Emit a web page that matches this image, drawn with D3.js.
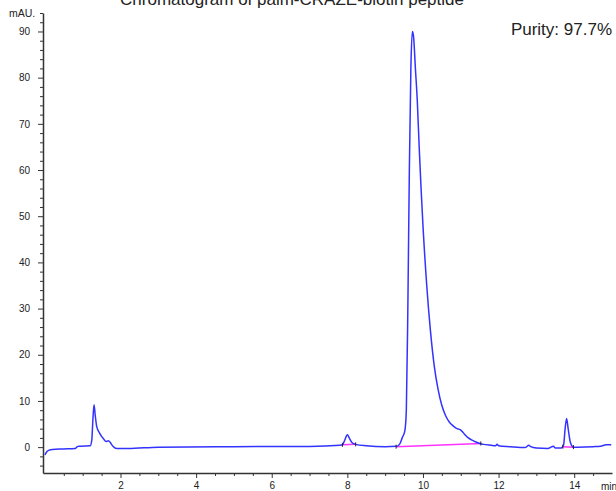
<!DOCTYPE html>
<html>
<head>
<meta charset="utf-8">
<script src="https://cdn.jsdelivr.net/npm/d3@7"></script>
<style>
  body { margin: 0; background: #fff; }
  text { font-family: Arial, "Liberation Sans", sans-serif; }
</style>
</head>
<body>
<div id="vis"></div>
<script>
const W = 616, H = 491;
const margin = { top: 13, right: 4, bottom: 18, left: 43 };

// retention time (min) and absorbance (mAU)
const times = [0, 0.05, 0.1, 0.2, 0.5, 0.8, 0.86, 0.9, 0.95, 1.2, 1.24, 1.27, 1.30, 1.33, 1.37, 1.45, 1.55, 1.62, 1.68, 1.73, 1.8, 1.9, 2.2, 3, 5, 7, 7.8,
  7.87, 7.93, 8.0, 8.05, 8.12, 8.22, 8.5, 9.0, 9.3, 9.38, 9.45, 9.52, 9.56, 9.6, 9.64, 9.68, 9.72, 9.75, 9.8, 9.85, 9.9, 9.95, 10.0, 10.1, 10.2, 10.3,
  10.4, 10.5, 10.6, 10.7, 10.8, 10.9, 10.95, 11.0, 11.05, 11.1, 11.2, 11.3, 11.4, 11.5, 11.6, 11.8, 11.92, 11.96, 12.0, 12.3, 12.7, 12.8, 12.85, 13.0,
  13.3, 13.45, 13.5, 13.65, 13.72, 13.76, 13.8, 13.84, 13.9, 13.98, 14.1, 14.5, 14.7, 14.85, 14.98];
const mAU = [-1.7, -1.0, -0.7, -0.5, -0.4, -0.3, 0.1, 0.2, 0.2, 0.3, 1.5, 6, 9.2, 7, 4.5, 3.0, 1.8, 1.2, 1.4, 1.0, 0.2, -0.3, -0.3, 0, 0.1, 0.15, 0.4,
  0.5, 1.5, 2.7, 2.0, 1.0, 0.6, 0.3, 0.1, 0.2, 0.6, 2.0, 3.5, 8, 30, 60, 82, 90, 89, 82, 75, 65, 56, 48, 35, 25, 17.5,
  12.5, 9, 6.8, 5.4, 4.6, 4.0, 3.9, 3.7, 3.3, 2.8, 2.0, 1.5, 1.1, 0.8, 0.6, 0.4, 0.3, 0.6, 0.3, 0.1, -0.1, 0.4, 0.1, -0.2,
  -0.3, 0.2, -0.2, -0.2, 0.5, 4, 6.2, 4, 1, 0, 0, 0.1, 0.2, 0.5, 0.5];

// integration baselines: [start time, start mAU, end time, end mAU]
const baselines = [
  [7.87, 0.5, 8.22, 0.6],
  [9.29, 0.1, 11.53, 0.8],
  [13.70, 0.1, 13.98, 0.0]
];

const xTicks = [2, 4, 6, 8, 10, 12, 14];
const yTicks = [0, 10, 20, 30, 40, 50, 60, 70, 80, 90];

const svg = d3.select('#vis').append('svg')
  .attr('width', W).attr('height', H);

const x = d3.scaleLinear().domain([-0.05, 15]).range([margin.left, W - margin.right]);
const y = d3.scaleLinear().domain([-5.6, 94]).range([H - margin.bottom, margin.top]);

// minor ticks
const xMinor = d3.range(0.5, 15, 0.5).filter(d => d % 2 !== 0);
const yMinor = d3.range(-4, 95, 2).filter(d => d % 10 !== 0);

svg.append('g')
  .attr('transform', `translate(0,${H - margin.bottom})`)
  .call(d3.axisBottom(x).tickValues(xMinor).tickSize(3).tickFormat(''))
  .call(g => g.select('.domain').remove());
svg.append('g')
  .attr('transform', `translate(${margin.left},0)`)
  .call(d3.axisLeft(y).tickValues(yMinor).tickSize(3).tickFormat(''))
  .call(g => g.select('.domain').remove());

svg.append('g')
  .attr('transform', `translate(0,${H - margin.bottom})`)
  .call(d3.axisBottom(x).tickValues(xTicks).tickSize(5).tickSizeOuter(0).tickPadding(4));
svg.append('g')
  .attr('transform', `translate(${margin.left},0)`)
  .call(d3.axisLeft(y).tickValues(yTicks).tickSize(5).tickSizeOuter(0).tickPadding(8));

svg.selectAll('.tick line').attr('stroke', '#333');
svg.selectAll('.domain').attr('stroke', '#333').attr('stroke-width', 1.5);
svg.selectAll('.tick text').attr('font-size', 10).attr('fill', '#222')
  .style('font-family', 'Arial, "Liberation Sans", sans-serif');

svg.append('text').attr('x', 9).attr('y', 17).attr('font-size', 10.5).attr('fill', '#222').text('mAU.');
svg.append('text').attr('x', 601).attr('y', 490).attr('font-size', 10).attr('fill', '#222').text('min');

// title, partly cut off at top
svg.append('text').attr('x', 292).attr('y', 5).attr('text-anchor', 'middle')
  .attr('font-size', 17).attr('fill', '#222').text('Chromatogram of palm-CRAZE-biotin peptide');
svg.append('text').attr('x', 612).attr('y', 35).attr('text-anchor', 'end')
  .attr('font-size', 17).attr('fill', '#222').text('Purity: 97.7%');

// baselines in magenta
svg.selectAll('.base').data(baselines).join('line')
  .attr('x1', d => x(d[0])).attr('y1', d => y(d[1]))
  .attr('x2', d => x(d[2])).attr('y2', d => y(d[3]))
  .attr('stroke', '#ff33ff').attr('stroke-width', 1.5);

const data = times.map((t, i) => ({ t, v: mAU[i] }));
const line = d3.line().x(d => x(d.t)).y(d => y(d.v)).curve(d3.curveMonotoneX);
svg.append('path').datum(data)
  .attr('d', line)
  .attr('fill', 'none').attr('stroke', '#3333ff').attr('stroke-width', 1.5);

// integration marks
const marks = baselines.flatMap(b => [[b[0], b[1]], [b[2], b[3]]]);
svg.selectAll('.mark').data(marks).join('line')
  .attr('x1', d => x(d[0])).attr('x2', d => x(d[0]))
  .attr('y1', d => y(d[1]) - 2).attr('y2', d => y(d[1]) + 2)
  .attr('stroke', '#222').attr('stroke-width', 1);
</script>
</body>
</html>
